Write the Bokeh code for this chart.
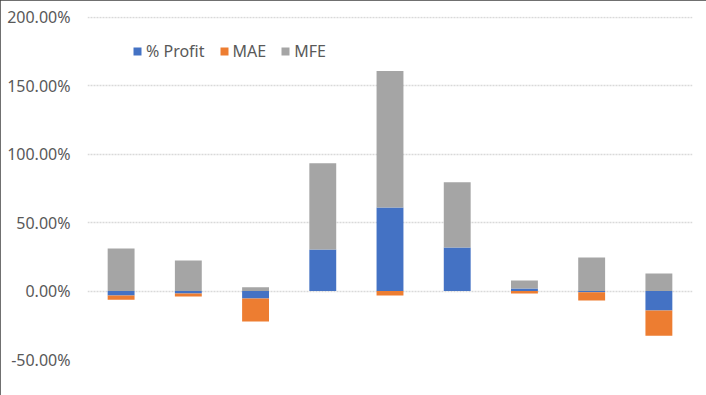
from bokeh.plotting import figure
from bokeh.models import FactorRange, Range1d, Legend, LegendItem, PrintfTickFormatter, FixedTicker
from bokeh.embed import file_html
from bokeh.resources import INLINE
import numpy as np

# ---- data (percent units) ----
categories = ["1", "2", "3", "4", "5", "6", "7", "8", "9"]
profit = [-3.3, -1.8, -5.5, 30.4, 61.1, 31.8, 1.8, -0.8, -14.3]
mae = [-3.0, -2.2, -16.8, 0.0, -3.3, 0.0, -1.8, -6.2, -18.3]
mfe = [31.1, 22.3, 2.8, 62.9, 99.6, 47.6, 5.9, 24.5, 12.8]
y_ticks = [-50, 0, 50, 100, 150, 200]

series_names = ["% Profit", "MAE", "MFE"]
series_values = [profit, mae, mfe]
colors = ["#4472C4", "#ED7D31", "#A5A5A5"]

FONT = "Noto Sans"

p = figure(
    width=706, height=395,
    x_range=FactorRange(factors=categories, range_padding=0, factor_padding=0),
    y_range=Range1d(-50, 200.5),
    output_backend="svg", toolbar_location=None,
    min_border_left=87, min_border_right=14, min_border_top=16, min_border_bottom=36,
)
p.outline_line_color = None
p.background_fill_color = "white"
p.border_fill_color = "white"
p.styles = {"outline": "1px solid #404040", "outline-offset": "-1px"}

# stacked bars: positive and negative parts stack separately (Excel style)
pos_base = np.zeros(len(categories))
neg_base = np.zeros(len(categories))
renderers = []
for name, vals, col in zip(series_names, series_values, colors):
    v = np.array(vals, dtype=float)
    bottom = np.where(v >= 0, pos_base, neg_base)
    top = bottom + v
    r = p.vbar(x=categories, bottom=bottom, top=top, width=0.40,
               fill_color=col, line_color=None)
    renderers.append(r)
    pos_base = np.where(v >= 0, top, pos_base)
    neg_base = np.where(v < 0, top, neg_base)

# axes
p.xaxis.visible = False
p.xgrid.visible = False
yax = p.yaxis[0]
yax.ticker = FixedTicker(ticks=y_ticks)
yax.formatter = PrintfTickFormatter(format="%.2f%%")
yax.axis_line_color = None
yax.major_tick_line_color = None
yax.minor_tick_line_color = None
yax.major_tick_out = 0
yax.major_label_standoff = 17
yax.major_label_text_font = FONT
yax.major_label_text_font_size = "16px"
yax.major_label_text_color = "#595959"

p.ygrid.ticker = FixedTicker(ticks=y_ticks)
p.ygrid.grid_line_color = "#D9D9D9"
p.ygrid.grid_line_width = 1.5
p.ygrid.grid_line_dash = "2 1"

legend = Legend(
    items=[LegendItem(label=n, renderers=[r]) for n, r in zip(series_names, renderers)],
    orientation="horizontal",
    location=(45, 297),
    glyph_width=10, glyph_height=10,
    label_standoff=4, spacing=14,
    label_text_font=FONT, label_text_font_size="16px", label_text_color="#595959",
    label_height=20,
    padding=0, margin=0,
    border_line_color=None, background_fill_alpha=0,
)
p.add_layout(legend)

open("out.html", "w").write(file_html(p, INLINE))
